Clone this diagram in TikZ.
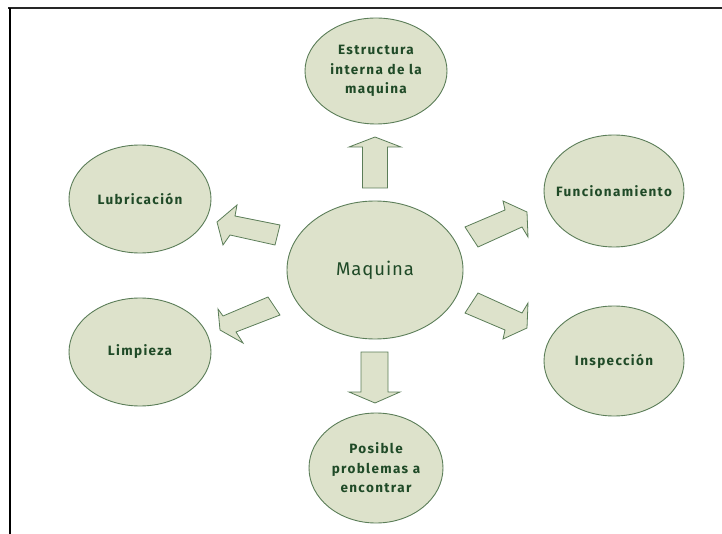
\documentclass[tikz,border=0pt]{standalone}
\usepackage{fontspec}
\setmainfont{Fira Sans}
\usepackage{tikz}
\usetikzlibrary{shapes.geometric, positioning}

\definecolor{sage}{HTML}{DDE2CB}
\definecolor{sageline}{HTML}{5B7D58}
\definecolor{leaf}{HTML}{1F4A27}

\tikzset{
  topic/.style={ellipse, draw=sageline, fill=sage, line width=0.9pt, inner sep=-12pt,
    text=leaf, align=center, font=\fontsize{13.5}{19.5}\selectfont\bfseries\addfontfeatures{LetterSpace=10}},
  blockarrow/.style={draw=sageline, fill=sage, line width=0.8pt, line join=miter}
}

\begin{document}
\begin{tikzpicture}[x=1pt, y=-1pt]
  \useasboundingbox (0,0) rectangle (722,534);

  % page frame
  \draw[line width=1.6pt, black!85] (8,8) -- (722,8);
  \draw[line width=2pt] (10,8) -- (10,534);

  % centre
  \node[topic, minimum width=176pt, minimum height=138pt,
    font=\fontsize{18.5}{20}\selectfont\addfontfeatures{LetterSpace=5}] (maquina) at (375,270) {Maquina};

  % around it
  \node[topic, minimum width=142pt, minimum height=106pt] (estructura) at (376,71)
    {Estructura\\interna de la\\maquina};
  \node[topic, minimum width=142pt, minimum height=108pt] (lubricacion) at (140,199) {Lubricación};
  \node[topic, minimum width=142pt, minimum height=108pt] (limpieza) at (140,352) {Limpieza};
  \node[topic, minimum width=140pt, minimum height=112pt] (funcionamiento) at (614,191) {Funcionamiento};
  \node[topic, minimum width=140pt, minimum height=110pt] (inspeccion) at (614,361) {Inspección};
  \node[topic, minimum width=134pt, minimum height=110pt] (posible) at (376,468)
    {Posible\\problemas a\\encontrar};

  % block arrows
  \draw[blockarrow] (362.5,188) -- (362.5,147) -- (349,147) -- (375,137) -- (401,147)
    -- (387.5,147) -- (387.5,188) -- cycle;
  \draw[blockarrow] (361,352) -- (361,392) -- (349,392) -- (375,403) -- (400,392)
    -- (388,392) -- (388,352) -- cycle;
  \draw[blockarrow] (465,227) -- (505,210) -- (503,201) -- (527,212) -- (528,237)
    -- (522,227) -- (478,247) -- cycle;
  \draw[blockarrow] (465,313) -- (505,330) -- (503,339) -- (527,328) -- (528,303)
    -- (522,313) -- (478,293) -- cycle;
  \draw[blockarrow] (280,225) -- (235,216) -- (237,205) -- (217,222) -- (223,245)
    -- (230,235) -- (275,245) -- cycle;
  \draw[blockarrow] (268,297) -- (223,316) -- (218,309) -- (220,330) -- (243,343)
    -- (236,332) -- (280,315) -- cycle;
\end{tikzpicture}
\end{document}
